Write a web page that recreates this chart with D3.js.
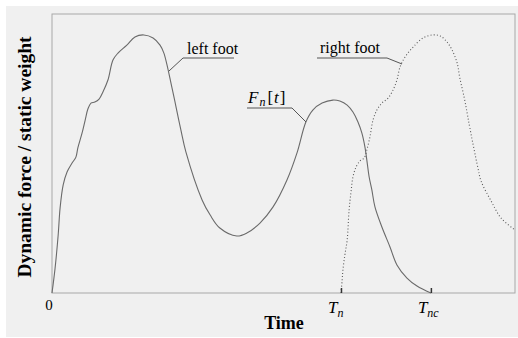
<!DOCTYPE html>
<html><head><meta charset="utf-8">
<script src="https://cdn.jsdelivr.net/npm/d3@7"></script>
<style>
html,body{margin:0;padding:0;background:#fff;}
svg{display:block;}
text{font-family:"Liberation Serif","Times New Roman",serif;fill:#000;}
</style></head>
<body>
<script>
// time (s) and dynamic force / static weight
const leftT = [0,0.008,0.016,0.021,0.029,0.039,0.052,0.062,0.067,0.078,0.086,0.093,0.101,0.111,0.122,0.132,0.145,0.158,0.171,0.194,0.215,0.238,0.262,0.280,0.290,0.311,0.321,0.334,0.347,0.389,0.410,0.435,0.479,0.505,0.539,0.573,0.609,0.635,0.658,0.676,0.700,0.728,0.746,0.765,0.780,0.793,0.803,0.811,0.816,0.822,0.829,0.837,0.855,0.876,0.894,0.920,0.946,0.982];
const leftF = [0,0.125,0.291,0.427,0.542,0.607,0.652,0.682,0.728,0.803,0.868,0.923,0.953,0.958,0.973,1.009,1.069,1.169,1.204,1.244,1.285,1.295,1.280,1.244,1.204,1.029,0.938,0.818,0.708,0.467,0.391,0.326,0.286,0.301,0.351,0.432,0.567,0.703,0.858,0.918,0.953,0.968,0.963,0.943,0.908,0.858,0.803,0.733,0.667,0.582,0.517,0.432,0.331,0.231,0.141,0.075,0.035,0];
const rightT = [0.749,0.752,0.754,0.759,0.765,0.770,0.775,0.780,0.788,0.798,0.809,0.816,0.824,0.832,0.842,0.855,0.871,0.884,0.894,0.902,0.915,0.936,0.962,0.987,1.006,1.024,1.037,1.050,1.057,1.068,1.076,1.083,1.104,1.112,1.138,1.164,1.200];
const rightF = [0,0.065,0.115,0.191,0.266,0.416,0.507,0.582,0.632,0.662,0.677,0.718,0.783,0.868,0.918,0.953,0.978,1.019,1.069,1.134,1.184,1.234,1.280,1.295,1.290,1.259,1.219,1.154,1.079,0.984,0.903,0.828,0.627,0.562,0.462,0.376,0.316];
const tickTimes = [0.749, 0.982];
const tickNames = [["T","n"],["T","nc"]];
const xTitle = "Time";
const yTitle = "Dynamic force / static weight";

const W = 518, H = 338;
const m = {l:52, r:3, t:14, b:45};
const svg = d3.select("body").append("svg").attr("width",W).attr("height",H);
svg.append("rect").attr("x",6).attr("y",6).attr("width",W-6).attr("height",H-7).attr("fill","#f0f0f0");

const x = d3.scaleLinear().domain([0,1.2]).range([m.l, W-m.r]);
const y = d3.scaleLinear().domain([0,1.4]).range([H-m.b, m.t]);

svg.append("rect").attr("x",x(0)).attr("y",y(1.4)).attr("width",x(1.2)-x(0)).attr("height",y(0)-y(1.4))
  .attr("fill","none").attr("stroke","#a8a8a8").attr("stroke-width",1);

const line = d3.line().x(d=>x(d[0])).y(d=>y(d[1])).curve(d3.curveCatmullRom.alpha(0.5));
svg.append("path").datum(leftT.map((t,i)=>[t,leftF[i]])).attr("d",line)
  .attr("fill","none").attr("stroke","#6a6a6a").attr("stroke-width",1.1);
svg.append("path").datum(rightT.map((t,i)=>[t,rightF[i]])).attr("d",line)
  .attr("fill","none").attr("stroke","#5a5a5a").attr("stroke-width",1.1).attr("stroke-dasharray","1,2.2");

// axis ticks
const ax = svg.append("g").attr("transform",`translate(0,${y(0)})`)
  .call(d3.axisBottom(x).tickValues(tickTimes).tickSize(-5).tickFormat(""));
ax.select(".domain").remove();
ax.selectAll(".tick line").attr("stroke","#333").attr("stroke-width",1.5);

svg.append("text").attr("x",x(0)-3).attr("y",y(0)+17).attr("text-anchor","middle").attr("font-size",15).text("0");
tickTimes.forEach((t,i)=>{
  const tx = svg.append("text").attr("x",x(t)-13).attr("y",y(0)+20).attr("font-size",17).attr("font-style","italic");
  tx.append("tspan").text(tickNames[i][0]);
  tx.append("tspan").attr("dy",4).attr("font-size",12).text(tickNames[i][1]);
});

svg.append("text").attr("x",284).attr("y",329).attr("text-anchor","middle").attr("font-size",18).attr("font-weight","bold").text(xTitle);
svg.append("text").attr("transform","translate(31,157) rotate(-90)").attr("text-anchor","middle")
  .attr("font-size",19.5).attr("font-weight","bold").text(yTitle);

// annotations
function leader(pts){
  svg.append("path").attr("d",d3.line()(pts)).attr("fill","none").attr("stroke","#555").attr("stroke-width",1);
}
svg.append("text").attr("x",187).attr("y",54).attr("font-size",16).text("left foot");
leader([[234,58],[183,58],[169,71]]);
svg.append("text").attr("x",320).attr("y",53).attr("font-size",16).text("right foot");
leader([[317,58],[387,58],[402,64]]);
const fn = svg.append("text").attr("x",248).attr("y",103).attr("font-size",17);
fn.append("tspan").attr("font-style","italic").text("F");
fn.append("tspan").attr("font-style","italic").attr("font-size",12).attr("dy",3).attr("dx",1).text("n");
fn.append("tspan").attr("dy",-3).attr("dx",2).text("[");
fn.append("tspan").attr("font-style","italic").attr("dx",1).text("t");
fn.append("tspan").attr("dx",1).text("]");
leader([[247,108],[292,108],[306,122]]);
</script>
</body></html>
